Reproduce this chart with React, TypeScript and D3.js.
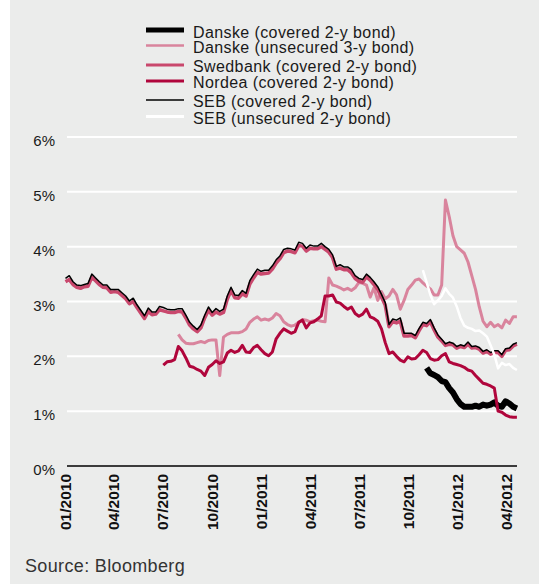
import React, { useEffect, useRef } from 'react';
import * as d3 from 'd3';

const WIDTH = 539;
const HEIGHT = 584;
const FONT = '"Liberation Sans", Arial, Helvetica, sans-serif';

// weekly observations, starting 01/01/2010
const START = new Date(2010, 0, 1);
const WEEKS = d3.range(121).map(i => d3.timeDay.offset(START, i * 7));

const TICK_DATES = [
	new Date(2010, 0, 1), new Date(2010, 3, 1), new Date(2010, 6, 1), new Date(2010, 9, 1),
	new Date(2011, 0, 1), new Date(2011, 3, 1), new Date(2011, 6, 1), new Date(2011, 9, 1),
	new Date(2012, 0, 1), new Date(2012, 3, 1)
];
const TICK_LABELS = ['01/2010', '04/2010', '07/2010', '10/2010', '01/2011', '04/2011', '07/2011', '10/2011', '01/2012', '04/2012'];
const Y_TICKS = [0, 1, 2, 3, 4, 5, 6];

// yields in %, one value per week from the series start week
const SEB_COVERED = [
	3.42, 3.47, 3.36, 3.30, 3.29, 3.31, 3.33, 3.50, 3.43, 3.36,
	3.30, 3.30, 3.22, 3.22, 3.22, 3.16, 3.10, 3.01, 3.06, 2.94,
	2.84, 2.74, 2.88, 2.81, 2.81, 2.91, 2.89, 2.86, 2.85, 2.85,
	2.87, 2.87, 2.75, 2.62, 2.55, 2.49, 2.57, 2.75, 2.90, 2.80,
	2.87, 2.82, 2.86, 3.10, 3.26, 3.12, 3.11, 3.20, 3.15, 3.38,
	3.49, 3.59, 3.55, 3.57, 3.57, 3.65, 3.76, 3.83, 3.95, 3.97,
	3.96, 3.94, 4.08, 4.06, 3.97, 4.03, 4.01, 4.01, 4.06, 4.00,
	3.95, 3.85, 3.64, 3.67, 3.63, 3.63, 3.58, 3.47, 3.42, 3.40,
	3.50, 3.44, 3.36, 3.27, 3.13, 2.98, 2.58, 2.68, 2.66, 2.70,
	2.42, 2.42, 2.42, 2.38, 2.51, 2.62, 2.60, 2.67, 2.52, 2.39,
	2.31, 2.23, 2.26, 2.24, 2.18, 2.21, 2.19, 2.26, 2.18, 2.19,
	2.16, 2.09, 2.12, 2.07, 2.10, 2.10, 2.03, 2.14, 2.15, 2.22,
	2.25
];
const SWEDBANK_COVERED = [
	3.36, 3.40, 3.31, 3.26, 3.24, 3.27, 3.28, 3.44, 3.38, 3.31,
	3.26, 3.25, 3.17, 3.18, 3.17, 3.11, 3.05, 2.96, 3.00, 2.89,
	2.79, 2.69, 2.82, 2.76, 2.77, 2.85, 2.83, 2.81, 2.80, 2.80,
	2.82, 2.81, 2.70, 2.57, 2.50, 2.45, 2.52, 2.70, 2.84, 2.75,
	2.81, 2.77, 2.80, 3.04, 3.20, 3.07, 3.06, 3.14, 3.10, 3.32,
	3.43, 3.53, 3.50, 3.51, 3.52, 3.59, 3.70, 3.78, 3.89, 3.92,
	3.91, 3.89, 4.02, 4.01, 3.92, 3.97, 3.96, 3.96, 4.00, 3.95,
	3.90, 3.80, 3.59, 3.61, 3.58, 3.58, 3.52, 3.42, 3.37, 3.35,
	3.45, 3.39, 3.31, 3.22, 3.08, 2.93, 2.54, 2.63, 2.61, 2.64,
	2.37, 2.37, 2.38, 2.34, 2.47, 2.58, 2.56, 2.63, 2.48, 2.35,
	2.28, 2.20, 2.22, 2.21, 2.15, 2.18, 2.16, 2.22, 2.15, 2.16,
	2.13, 2.06, 2.09, 2.04, 2.07, 2.07, 2.00, 2.11, 2.12, 2.19,
	2.22
];
const DANSKE_UNSECURED = [
	2.40, 2.30, 2.24, 2.23, 2.23, 2.25, 2.27, 2.25, 2.29, 2.30,
	2.30, 1.65, 2.35, 2.40, 2.43, 2.43, 2.43, 2.45, 2.50, 2.62,
	2.68, 2.72, 2.66, 2.68, 2.66, 2.70, 2.78, 2.74, 2.63, 2.58,
	2.55, 2.57, 2.62, 2.67, 2.66, 2.63, 2.65, 2.66, 2.64, 2.63,
	3.43, 3.30, 3.28, 3.25, 3.21, 3.24, 3.20, 3.25, 3.35, 3.33,
	3.30, 3.08, 3.25, 3.02, 3.18, 3.05, 3.10, 3.22, 3.12, 2.86,
	3.02, 3.22, 3.30, 3.39, 3.41, 3.34, 3.28, 3.23, 3.12, 3.12,
	3.30, 4.85, 4.55, 4.20, 4.00, 3.94, 3.88, 3.72, 3.47, 3.22,
	2.90, 2.64, 2.54, 2.62, 2.54, 2.58, 2.52, 2.66, 2.60, 2.72,
	2.72
];
const NORDEA_COVERED = [
	1.84, 1.90, 1.91, 1.94,
	2.18, 2.10, 1.97, 1.82, 1.80, 1.76, 1.73, 1.65, 1.80, 1.85,
	1.92, 1.87, 1.90, 2.06, 2.11, 2.07, 2.10, 2.20, 2.08, 2.07,
	2.16, 2.20, 2.12, 2.05, 2.01, 2.08, 2.32, 2.42, 2.50, 2.46,
	2.42, 2.45, 2.62, 2.66, 2.52, 2.61, 2.63, 2.68, 2.74, 3.10,
	3.10, 3.12, 2.99, 2.97, 2.91, 2.86, 2.90, 2.78, 2.73, 2.77,
	2.86, 2.72, 2.69, 2.64, 2.50, 2.25, 2.05, 2.08, 2.00, 1.93,
	1.90, 1.99, 1.95, 1.96, 2.03, 2.11, 2.07, 1.96, 1.93, 1.94,
	2.01, 2.05, 1.90, 1.87, 1.85, 1.83, 1.80, 1.75, 1.73, 1.65,
	1.58, 1.51, 1.49, 1.46, 1.42, 1.00, 0.98, 0.93, 0.90, 0.89,
	0.89
];
const DANSKE_COVERED = [
	1.79, 1.69, 1.66, 1.62, 1.55, 1.53, 1.42, 1.34, 1.22, 1.13,
	1.08, 1.08, 1.08, 1.10, 1.08, 1.12, 1.10, 1.12, 1.16, 1.10,
	1.08, 1.18, 1.14, 1.08, 1.05
];
const SEB_UNSECURED = [
	3.57, 3.35, 3.12, 2.95, 3.02, 3.10, 3.24, 3.14, 3.07, 2.91,
	2.70, 2.56, 2.52, 2.50, 2.46, 2.47, 2.42, 2.36, 2.20, 2.03,
	1.78, 1.88, 1.84, 1.86, 1.79, 1.75
];

const SERIES = [
	{ key: 'danskeCov', name: 'Danske (covered 2-y bond)', values: DANSKE_COVERED, start: 96, color: '#000000', width: 6, legendWidth: 5, draw: 0 },
	{ key: 'danskeUnsec', name: 'Danske (unsecured 3-y bond)', values: DANSKE_UNSECURED, start: 30, color: '#d9849d', width: 3, legendWidth: 2.5, draw: 1 },
	{ key: 'swedbank', name: 'Swedbank (covered 2-y bond)', values: SWEDBANK_COVERED, start: 0, color: '#c9486d', width: 3.5, legendWidth: 3, draw: 2 },
	{ key: 'nordea', name: 'Nordea (covered 2-y bond)', values: NORDEA_COVERED, start: 26, color: '#b0063c', width: 3, legendWidth: 3, draw: 4 },
	{ key: 'sebCov', name: 'SEB (covered 2-y bond)', values: SEB_COVERED, start: 0, color: '#000000', width: 1.5, legendWidth: 1.5, draw: 3 },
	{ key: 'sebUnsec', name: 'SEB (unsecured 2-y bond)', values: SEB_UNSECURED, start: 95, color: '#ffffff', width: 2.5, legendWidth: 3, draw: 5 }
];
const LEGEND_LINE_Y = [30, 45.5, 65, 81, 100, 116.5];
const LEGEND_TEXT_Y = [37.5, 53, 71.5, 87.5, 107, 123.5];

function App() {
	const node = useRef<SVGSVGElement>(null);

	useEffect(() => {
		const svg = d3.select(node.current);
		svg.selectAll('*').remove();

		const x = d3.scaleTime()
			.domain([TICK_DATES[0], TICK_DATES[TICK_DATES.length - 1]])
			.range([65.5, 506.7]);
		const y = d3.scaleLinear().domain([0, 6]).range([466, 137]);
		const x0 = 67;
		const x1 = 517;

		svg.append('rect').attr('width', WIDTH).attr('height', HEIGHT).attr('fill', '#ffffff');
		svg.append('rect').attr('x', 10).attr('width', WIDTH - 10).attr('height', HEIGHT).attr('fill', '#ebeceb');

		// gridlines
		svg.append('g')
			.selectAll('line')
			.data(Y_TICKS.filter(d => d > 0))
			.enter()
			.append('line')
			.attr('x1', x0)
			.attr('x2', x1)
			.attr('y1', d => y(d))
			.attr('y2', d => y(d))
			.attr('stroke', '#ffffff')
			.attr('stroke-width', 2);

		svg.append('g')
			.selectAll('text')
			.data(Y_TICKS)
			.enter()
			.append('text')
			.attr('x', 55)
			.attr('y', d => y(d) + 9)
			.attr('text-anchor', 'end')
			.attr('font-family', FONT)
			.attr('font-size', 15)
			.attr('fill', '#1a1a1a')
			.text(d => d + '%');

		// lines
		const line = d3.line<[Date, number]>()
			.x(d => x(d[0]))
			.y(d => y(d[1]))
			.curve(d3.curveLinear);

		const drawOrder = SERIES.slice().sort((a, b) => a.draw - b.draw);
		svg.append('g')
			.selectAll('path')
			.data(drawOrder)
			.enter()
			.append('path')
			.attr('d', s => line(s.values.map((v, i) => [WEEKS[s.start + i], v] as [Date, number])))
			.attr('fill', 'none')
			.attr('stroke', s => s.color)
			.attr('stroke-width', s => s.width)
			.attr('stroke-linejoin', 'round');

		// x axis
		svg.append('line')
			.attr('x1', x0)
			.attr('x2', x1)
			.attr('y1', y(0))
			.attr('y2', y(0))
			.attr('stroke', '#000')
			.attr('stroke-width', 1.5);

		svg.append('g')
			.selectAll('text')
			.data(TICK_DATES)
			.enter()
			.append('text')
			.attr('transform', d => `translate(${x(d)},474) rotate(-90)`)
			.attr('dy', '0.36em')
			.attr('text-anchor', 'end')
			.attr('font-family', FONT)
			.attr('font-size', 15.5)
			.attr('font-weight', 'bold')
			.attr('fill', '#111')
			.text((d, i) => TICK_LABELS[i]);

		// legend
		const legend = svg.append('g');
		SERIES.forEach((s, i) => {
			legend.append('line')
				.attr('x1', 146)
				.attr('x2', 184)
				.attr('y1', LEGEND_LINE_Y[i])
				.attr('y2', LEGEND_LINE_Y[i])
				.attr('stroke', s.color)
				.attr('stroke-width', s.legendWidth);
			legend.append('text')
				.attr('x', 193)
				.attr('y', LEGEND_TEXT_Y[i])
				.attr('font-family', FONT)
				.attr('font-size', 16)
				.attr('letter-spacing', 0.4)
				.attr('fill', '#1a1a1a')
				.text(s.name);
		});

		svg.append('text')
			.attr('x', 25)
			.attr('y', 572)
			.attr('font-family', FONT)
			.attr('font-size', 18)
			.attr('letter-spacing', 0.35)
			.attr('fill', '#333')
			.text('Source: Bloomberg');
	}, []);

	return (
		<svg
			ref={node}
			width={WIDTH}
			height={HEIGHT}
			style={{ position: 'absolute', left: 0, top: 0, display: 'block' }}
		/>
	);
}

export default App;
